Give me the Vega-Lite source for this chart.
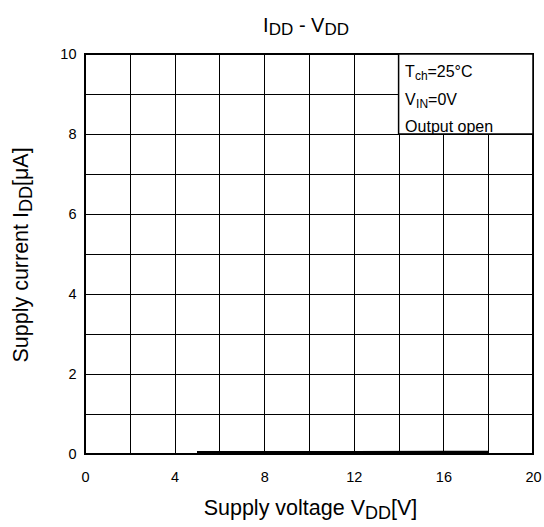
{
  "$schema": "https://vega.github.io/schema/vega-lite/v6.json",
  "width": 448,
  "height": 400,
  "autosize": {"type": "none"},
  "padding": {"left": 85, "top": 54, "right": 11, "bottom": 73},
  "background": "white",
  "data": {"values": [{}]},
  "config": {
    "font": "Liberation Sans",
    "view": {"stroke": "#000", "strokeWidth": 2},
    "text": {"font": "Liberation Sans", "color": "#000", "baseline": "alphabetic"},
    "axis": {
      "domain": false,
      "ticks": false,
      "grid": true,
      "gridColor": "#000",
      "gridOpacity": 1,
      "gridWidth": 1,
      "labelFont": "Liberation Sans",
      "labelFontSize": 14.5,
      "labelColor": "#000",
      "title": null,
      "tickCount": 10
    },
    "axisX": {
      "labelExpr": "datum.value % 4 === 0 ? datum.label : ''",
      "labelPadding": 16,
      "labelFlush": false
    },
    "axisY": {
      "labelExpr": "datum.value % 2 === 0 ? datum.label : ''",
      "labelPadding": 9
    }
  },
  "layer": [
    {
      "data": {"values": [
        {"vdd": 5, "idd": 0.03},
        {"vdd": 8, "idd": 0.03},
        {"vdd": 12, "idd": 0.03},
        {"vdd": 16, "idd": 0.035},
        {"vdd": 18, "idd": 0.035}
      ]},
      "mark": {"type": "line", "color": "#000", "strokeWidth": 3.5},
      "encoding": {
        "x": {"field": "vdd", "type": "quantitative",
          "scale": {"domain": [0, 20], "nice": false}},
        "y": {"field": "idd", "type": "quantitative",
          "scale": {"domain": [0, 10], "nice": false}}
      }
    },
    {
      "mark": {"type": "rect", "fill": "white", "stroke": "#000", "strokeWidth": 1.5},
      "encoding": {
        "x": {"datum": 14}, "x2": {"datum": 20},
        "y": {"datum": 8}, "y2": {"datum": 10}
      }
    },
    {"mark": {"type": "text", "text": "I", "align": "right", "fontSize": 20},
     "encoding": {"x": {"datum": 8.2}, "y": {"datum": 10.56}}},
    {"mark": {"type": "text", "text": "DD", "align": "left", "fontSize": 17, "dy": 3.5},
     "encoding": {"x": {"datum": 8.2}, "y": {"datum": 10.56}}},
    {"mark": {"type": "text", "text": "- V", "align": "left", "fontSize": 20, "dx": 30.2},
     "encoding": {"x": {"datum": 8.2}, "y": {"datum": 10.56}}},
    {"mark": {"type": "text", "text": "DD", "align": "left", "fontSize": 17, "dx": 55.8, "dy": 3.5},
     "encoding": {"x": {"datum": 8.2}, "y": {"datum": 10.56}}},

    {"mark": {"type": "text", "text": "T", "align": "left", "fontSize": 16},
     "encoding": {"x": {"datum": 14.29}, "y": {"datum": 9.425}}},
    {"mark": {"type": "text", "text": "ch", "align": "left", "fontSize": 12, "dx": 9.8, "dy": 3},
     "encoding": {"x": {"datum": 14.29}, "y": {"datum": 9.425}}},
    {"mark": {"type": "text", "text": "=25°C", "align": "left", "fontSize": 16, "dx": 22.3},
     "encoding": {"x": {"datum": 14.29}, "y": {"datum": 9.425}}},
    {"mark": {"type": "text", "text": "V", "align": "left", "fontSize": 16},
     "encoding": {"x": {"datum": 14.29}, "y": {"datum": 8.725}}},
    {"mark": {"type": "text", "text": "IN", "align": "left", "fontSize": 12, "dx": 11, "dy": 3},
     "encoding": {"x": {"datum": 14.29}, "y": {"datum": 8.725}}},
    {"mark": {"type": "text", "text": "=0V", "align": "left", "fontSize": 16, "dx": 23},
     "encoding": {"x": {"datum": 14.29}, "y": {"datum": 8.725}}},
    {"mark": {"type": "text", "text": "Output open", "align": "left", "fontSize": 16},
     "encoding": {"x": {"datum": 14.29}, "y": {"datum": 8.05}}},

    {"mark": {"type": "text", "text": "Supply voltage V", "align": "right", "fontSize": 21.5},
     "encoding": {"x": {"datum": 12.5}, "y": {"datum": -1.525}}},
    {"mark": {"type": "text", "text": "DD", "align": "left", "fontSize": 18, "dy": 4},
     "encoding": {"x": {"datum": 12.5}, "y": {"datum": -1.525}}},
    {"mark": {"type": "text", "text": "[V]", "align": "left", "fontSize": 21.5, "dx": 26},
     "encoding": {"x": {"datum": 12.5}, "y": {"datum": -1.525}}},

    {"mark": {"type": "text", "text": "Supply current I", "align": "right", "fontSize": 21.5, "angle": 270},
     "encoding": {"x": {"datum": -2.53}, "y": {"datum": 6.05}}},
    {"mark": {"type": "text", "text": "DD", "align": "left", "fontSize": 18, "angle": 270, "dy": 4},
     "encoding": {"x": {"datum": -2.53}, "y": {"datum": 6.05}}},
    {"mark": {"type": "text", "text": "[μA]", "align": "left", "fontSize": 21.5, "angle": 270, "dx": 26},
     "encoding": {"x": {"datum": -2.53}, "y": {"datum": 6.05}}}
  ]
}
